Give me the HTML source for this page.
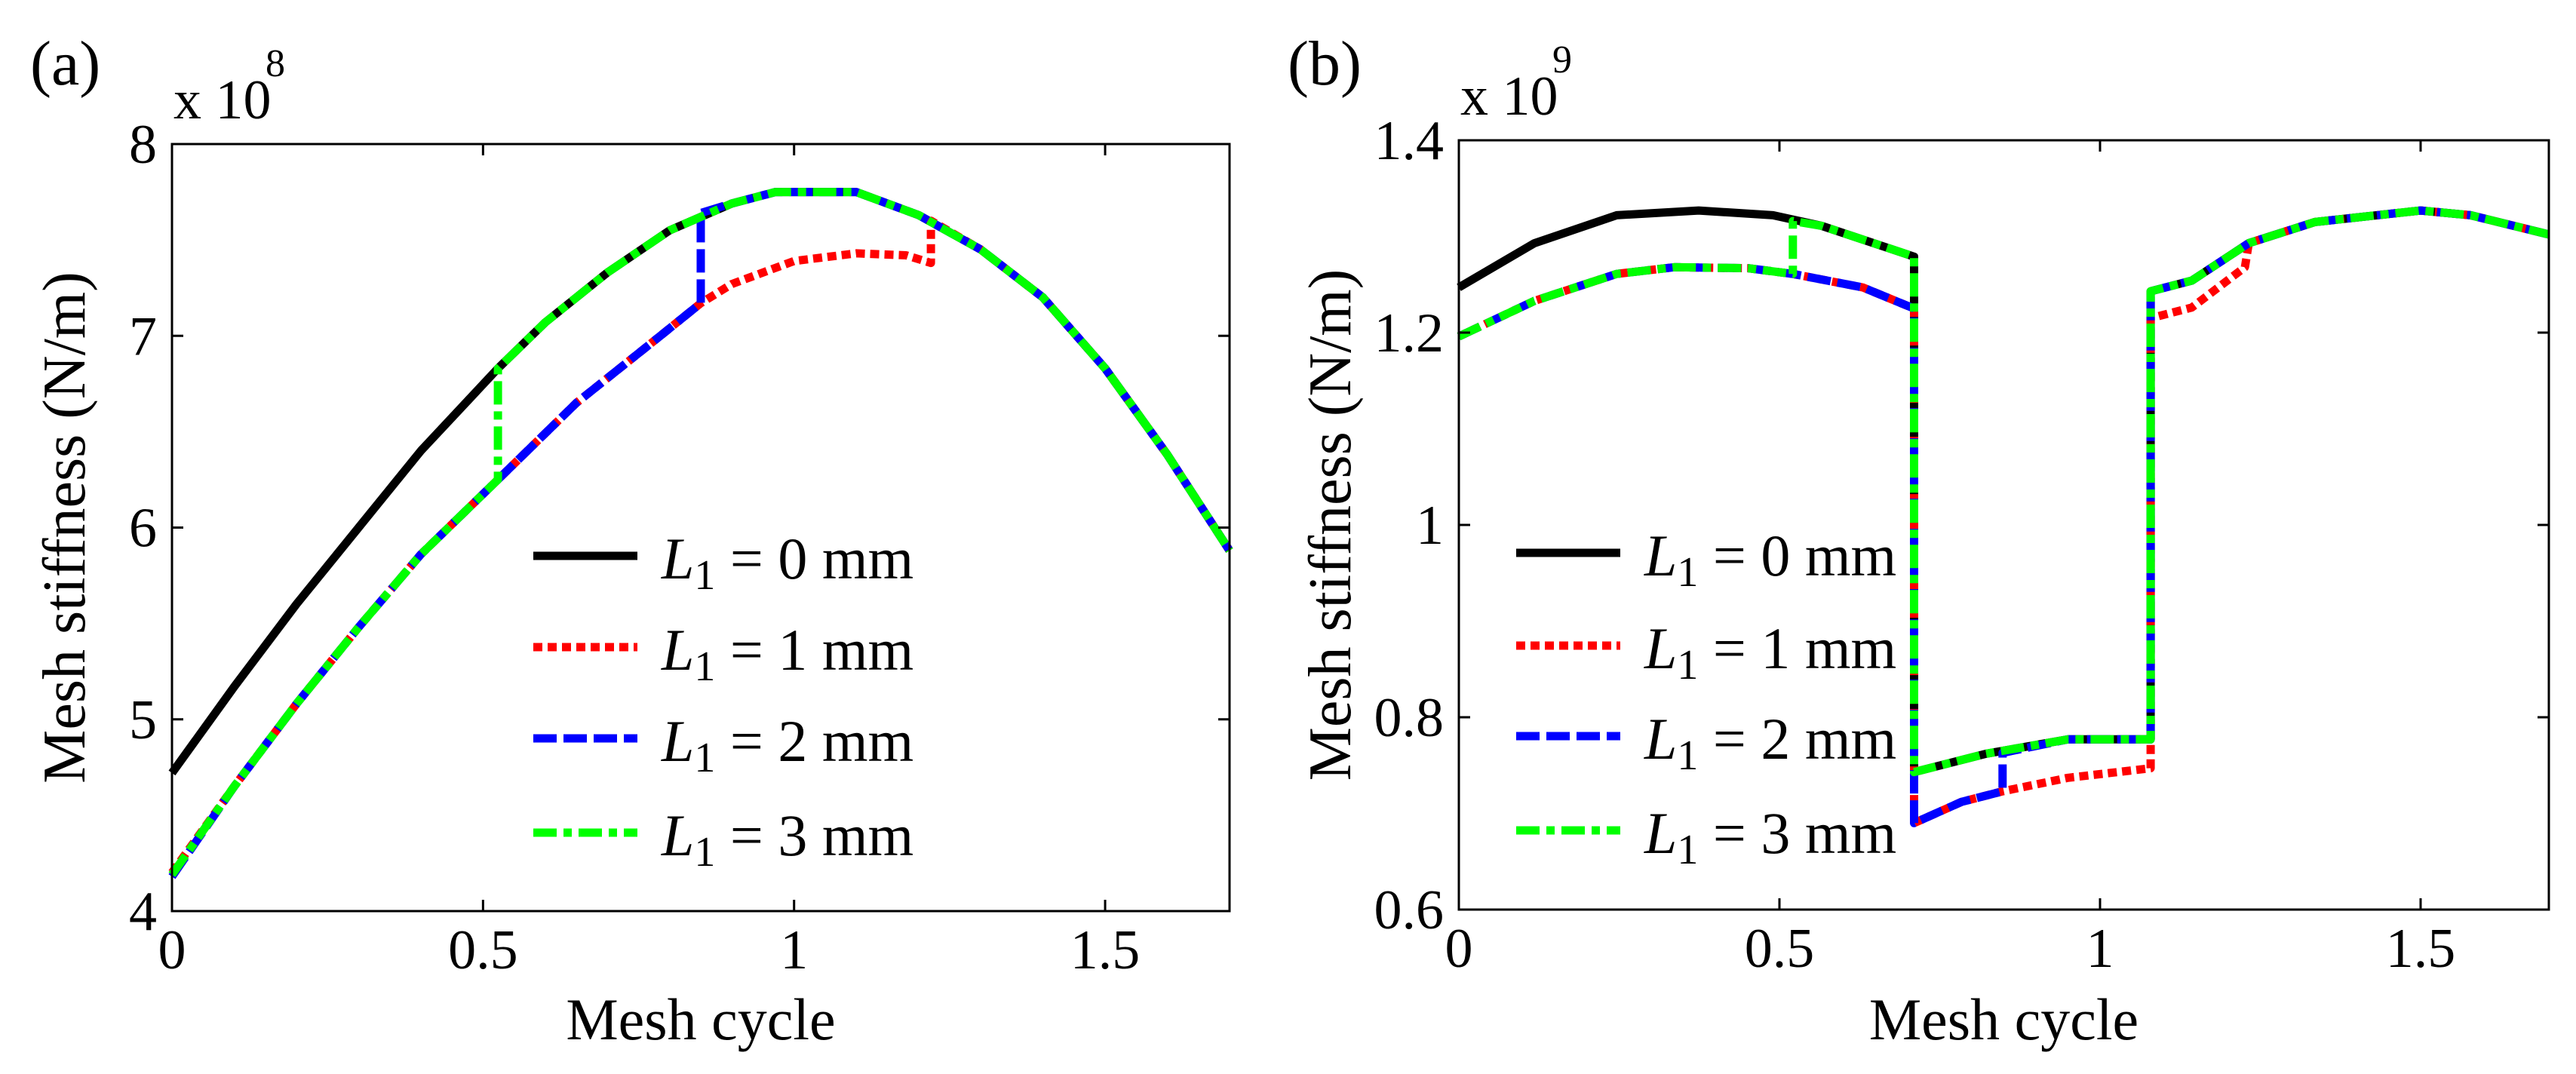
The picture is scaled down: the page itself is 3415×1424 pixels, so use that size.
<!DOCTYPE html>
<html><head><meta charset="utf-8"><style>
html,body{margin:0;padding:0;background:#fff;}
svg{display:block;}
text{font-family:"Liberation Serif",serif;fill:#000;}
</style></head><body>
<svg id="fig" width="3415" height="1424" viewBox="0 0 3415 1424" xmlns="http://www.w3.org/2000/svg"></svg>
<script>
// ---- Panel (a) data (x: mesh cycle, y: stiffness x1e8) ----
const aL0x=[0,0.1,0.2,0.3,0.4,0.524,0.6,0.7,0.8,0.9,0.97,1.1,1.2,1.3,1.4,1.5,1.6,1.70];
const aL0y=[4.72,5.17,5.6,6.0,6.4,6.83,7.07,7.33,7.55,7.69,7.75,7.75,7.63,7.45,7.2,6.83,6.38,5.88];
const aL1x=[0,0.1,0.2,0.3,0.4,0.524,0.65,0.785,0.85,0.9,1.0,1.1,1.18,1.22,1.22,1.3,1.4,1.5,1.6,1.70];
const aL1y=[4.20,4.65,5.08,5.48,5.86,6.25,6.65,7.0,7.17,7.27,7.39,7.43,7.42,7.38,7.60,7.45,7.2,6.83,6.38,5.88];
const aL2x=[0,0.1,0.2,0.3,0.4,0.524,0.65,0.785,0.85,0.85,0.9,0.97,1.1,1.2,1.3,1.4,1.5,1.6,1.70];
const aL2y=[4.18,4.65,5.08,5.48,5.86,6.25,6.65,7.0,7.17,7.64,7.69,7.75,7.75,7.63,7.45,7.2,6.83,6.38,5.88];
const aL3x=[0,0.1,0.2,0.3,0.4,0.524,0.524,0.6,0.7,0.8,0.9,0.97,1.1,1.2,1.3,1.4,1.5,1.6,1.70];
const aL3y=[4.19,4.65,5.08,5.48,5.86,6.25,6.83,7.07,7.33,7.55,7.69,7.75,7.75,7.63,7.45,7.2,6.83,6.38,5.88];
const aYTicks=[4,5,6,7,8];
const aXTicks=[0,0.5,1,1.5];
// ---- Panel (b) data (y: stiffness x1e9) ----
const bL0x=[0,0.118,0.246,0.374,0.49,0.566,0.71,0.71,0.822,0.95,1.079,1.079,1.143,1.232,1.335,1.50,1.578,1.70];
const bL0y=[1.247,1.293,1.322,1.327,1.322,1.311,1.279,0.743,0.762,0.777,0.777,1.243,1.254,1.293,1.315,1.327,1.322,1.302];
const bL1x=[0,0.118,0.246,0.336,0.451,0.521,0.63,0.71,0.71,0.784,0.848,0.95,1.079,1.079,1.143,1.226,1.232,1.335,1.50,1.578,1.70];
const bL1y=[1.196,1.233,1.261,1.268,1.267,1.261,1.247,1.225,0.690,0.712,0.723,0.737,0.747,1.215,1.226,1.268,1.293,1.315,1.327,1.322,1.302];
const bL2x=[0,0.118,0.246,0.336,0.451,0.521,0.63,0.71,0.71,0.784,0.848,0.848,0.95,1.079,1.079,1.143,1.232,1.335,1.50,1.578,1.70];
const bL2y=[1.196,1.233,1.261,1.268,1.267,1.261,1.247,1.225,0.690,0.712,0.723,0.763,0.777,0.777,1.243,1.254,1.293,1.315,1.327,1.322,1.302];
const bL3x=[0,0.118,0.246,0.336,0.451,0.521,0.521,0.566,0.71,0.71,0.822,0.95,1.079,1.079,1.143,1.232,1.335,1.50,1.578,1.70];
const bL3y=[1.196,1.233,1.261,1.268,1.267,1.261,1.316,1.311,1.279,0.743,0.762,0.777,0.777,1.243,1.254,1.293,1.315,1.327,1.322,1.302];
const bYTicks=[0.6,0.8,1,1.2,1.4];
const bYLabels=["0.6","0.8","1","1.2","1.4"];
const bXTicks=[0,0.5,1,1.5];
const legendLabels=["0","1","2","3"];

const NS="http://www.w3.org/2000/svg";
const svg=document.getElementById('fig');
function mk(tag,attrs,parent){const e=document.createElementNS(NS,tag);for(const k in attrs)e.setAttribute(k,attrs[k]);(parent||svg).appendChild(e);return e;}
const styles=[
 {stroke:"#000000",dash:""},
 {stroke:"#ff0000",dash:"12 7"},
 {stroke:"#0000ff",dash:"31 9"},
 {stroke:"#00ff00",dash:"31 9 11 9"}
];
function panel(cfg){
  const {L,R,T,B,xmax,ymin,ymax}=cfg;
  const g=mk('g',{});
  
  
  const sx=v=>L+(v/xmax)*(R-L);
  const sy=v=>B-(v-ymin)/(ymax-ymin)*(B-T);
  const names=["series-l1-0mm","series-l1-1mm","series-l1-2mm","series-l1-3mm"];
  cfg.series.forEach((s,i)=>{
    const d=s[0].map((x,j)=>(j?'L':'M')+sx(x).toFixed(1)+' '+sy(s[1][j]).toFixed(1)).join(' ');
    const p=mk('path',{d:d,fill:'none',stroke:styles[i].stroke,'stroke-width':11,'stroke-dasharray':styles[i].dash,'stroke-linejoin':'round'},g);
    
    
  });
  const fr=mk('rect',{x:L,y:T,width:R-L,height:B-T,fill:'none',stroke:'#000','stroke-width':3},g);
  
  
  cfg.yt.forEach((v,i)=>{
    const y=sy(v);
    mk('line',{x1:L,x2:L+15,y1:y,y2:y,stroke:'#000','stroke-width':3},g);
    mk('line',{x1:R,x2:R-15,y1:y,y2:y,stroke:'#000','stroke-width':3},g);
    const t=mk('text',{x:L-20,y:y+25,'font-size':74,'text-anchor':'end'},g);
    t.textContent=cfg.yl[i];
    
    
  });
  cfg.xt.forEach(v=>{
    const x=sx(v);
    mk('line',{x1:x,x2:x,y1:B,y2:B-15,stroke:'#000','stroke-width':3},g);
    mk('line',{x1:x,x2:x,y1:T,y2:T+15,stroke:'#000','stroke-width':3},g);
    const t=mk('text',{x:x,y:B+76,'font-size':74,'text-anchor':'middle'},g);
    t.textContent=String(v);
    
    
  });
  const xl=mk('text',{x:(L+R)/2,y:1378,'font-size':78,'text-anchor':'middle'},g);
  xl.textContent='Mesh cycle';
  
  
  const yl=mk('text',{x:0,y:0,'font-size':80,'text-anchor':'middle',transform:`translate(${cfg.ylx},${(T+B)/2}) rotate(-90)`},g);
  yl.textContent='Mesh stiffness (N/m)';
  
  
  const ex=mk('text',{x:L+2,y:T-34,'font-size':74},g);
  ex.textContent='x 10';
  
  
  const ex2=mk('text',{x:L+124,y:T-90,'font-size':52},g);
  ex2.textContent=cfg.exp;
  
  
  const pl=mk('text',{x:cfg.lx,y:112,'font-size':84},g);
  pl.textContent=cfg.letter;
  
  
  cfg.legY.forEach((y,i)=>{
    const le=mk('g',{},g);
    
    
    mk('line',{x1:cfg.legX,x2:cfg.legX+138,y1:y,y2:y,stroke:styles[i].stroke,'stroke-width':11,'stroke-dasharray':styles[i].dash},le);
    const t=mk('text',{x:cfg.legX+170,y:y+30,'font-size':78},le);
    const a=mk('tspan',{'font-style':'italic'},t);a.textContent='L';
    const b=mk('tspan',{'font-size':56,dy:14},t);b.textContent='1';
    const c=mk('tspan',{dy:-14},t);c.textContent=' = '+legendLabels[i]+' mm';
  });
}
panel({name:'panel-a',L:228,R:1630,T:191,B:1208,xmax:1.7,ymin:4,ymax:8,
  series:[[aL0x,aL0y],[aL1x,aL1y],[aL2x,aL2y],[aL3x,aL3y]],
  yt:aYTicks,yl:aYTicks.map(String),xt:aXTicks,ylx:112,exp:'8',letter:'(a)',lx:40,
  legX:707,legY:[737,858,979,1104]});
panel({name:'panel-b',L:1934,R:3379,T:186,B:1206,xmax:1.7,ymin:0.6,ymax:1.4,
  series:[[bL0x,bL0y],[bL1x,bL1y],[bL2x,bL2y],[bL3x,bL3y]],
  yt:bYTicks,yl:bYLabels,xt:bXTicks,ylx:1790,exp:'9',letter:'(b)',lx:1707,
  legX:2010,legY:[733,856,976,1101]});
</script>
</body></html>
